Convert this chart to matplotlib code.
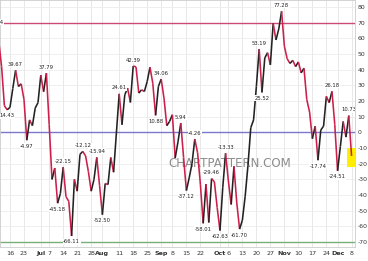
import numpy as np
import pandas as pd
import matplotlib
matplotlib.use("Agg")
import matplotlib.pyplot as plt
from matplotlib.collections import LineCollection
from matplotlib.patches import Rectangle

# trading days Jun 9 .. Dec 8 2014
holidays = ["2014-07-04", "2014-09-01", "2014-11-27"]
dates = pd.bdate_range("2014-06-09", "2014-12-08")
dates = dates[~dates.isin(pd.to_datetime(holidays))]

values = [
    66.54, 58, 42, 17, 14.43, 16, 28, 39.67, 29.3, 31,
    21, -4.97, 8, 4.3, 15.5, 19, 36.5, 26, 37.79, 5,
    -30, -22.7, -45.18, -39, -22.15, -41, -44, -66.11, -30, -37.5,
    -14, -12.12, -15, -25, -37.5, -30, -15.94, -34, -52.50, -32.6,
    -33.3, -16, -25.4, -0.4, 24.61, 4.9, 24, 28.3, 19.1, 42.39,
    41.8, 25.1, 27.2, 26.1, 32.5, 41.6, 31.4, 10.88, 29.3, 34.06,
    21.9, 4.3, 7.0, 11.3, -16.3, -6, 5.94, -16, -37.12, -29,
    -20, -4.26, -13, -33, -58.01, -33, -57.5, -29.46, -31.5, -48,
    -62.63, -35, -13.33, -31, -46, -21.6, -45, -61.70, -56, -40.7,
    -21, 3, 8, 29.3, 53.19, 25.52, 47.5, 50.9, 43.1, 69.6,
    59, 66, 77.28, 55, 47, 44, 46, 42, 45, 38,
    41, 21, 13, -4, 4, -17.74, 1.5, 4, 23, 19,
    26.18, 5, -24.51, -9, 7, -3, 10.73, -15,
]

# points that carry a value label
labeled = [0, 4, 7, 11, 18, 22, 24, 27, 31, 36, 38, 44, 49, 57, 59, 66, 68,
           71, 74, 77, 80, 82, 87, 94, 95, 102, 115, 120, 122, 126]

levels = [70, 0, -70]
level_colors = ["#cc4a78", "#7a78cc", "#7aae7a"]
yticks = list(range(-70, 90, 10))

vals = np.array(values)
x = np.arange(len(vals))
x0, x1 = 1.43, 128.4

fig = plt.figure(figsize=(3.68, 2.61), dpi=100)
ax = fig.add_axes([0.0, 0.052, 0.966, 0.948])

# x tick labels: month name on first trading day, Mondays otherwise
tick_pos, tick_lab, tick_bold = [], [], []
month_first = [i for i in range(1, len(dates)) if dates[i].month != dates[i - 1].month]
for i, d in enumerate(dates):
    if i < x0 or i > x1:
        continue
    if i in month_first:
        tick_pos.append(i); tick_lab.append(d.strftime("%b")); tick_bold.append(True)
    elif d.weekday() == 0 and all(abs(i - m) > 2 for m in month_first):
        tick_pos.append(i); tick_lab.append(str(d.day)); tick_bold.append(False)

for p in tick_pos:
    ax.axvline(p, color="#e4e4e4", lw=0.6, zorder=0)
for t in yticks:
    ax.axhline(t, color="#ececec", lw=0.6, zorder=0)

for lv, c in zip(levels, level_colors):
    ax.axhline(lv, color=c, lw=1.0, zorder=1)

ax.text(0.645, 0.34, "CHARTPATTERN.COM", transform=ax.transAxes, ha="center",
        va="center", fontsize=8.5, color="#8c8c8c", zorder=2)

segs = np.stack([np.column_stack([x[:-1], vals[:-1]]),
                 np.column_stack([x[1:], vals[1:]])], axis=1)
cols = ["#cc1f4a" if b < a else "#222222" for a, b in zip(vals[:-1], vals[1:])]
ax.add_collection(LineCollection(segs, colors=cols, linewidths=1.15, zorder=3))

for k in labeled:
    left = vals[k - 1] if k > 0 else -np.inf
    right = vals[k + 1] if k + 1 < len(vals) else -np.inf
    peak = vals[k] > max(left, right) if k > 0 else vals[k] > right
    ax.annotate(f"{vals[k]:.2f}", (x[k], vals[k]), xytext=(0, 2.5 if peak else -2.5),
                textcoords="offset points", ha="center",
                va="bottom" if peak else "top", fontsize=3.8, color="#222222",
                bbox=dict(fc="white", ec="none", pad=0.3), zorder=4,
                annotation_clip=False, clip_on=True)

# highlight of the last value
ax.add_patch(Rectangle((x[-1] - 1.5, vals[-1] - 7), 3.1, 12, fc="#ffee00",
                       ec="none", zorder=2.5))

ax.set_xlim(x0, x1)
ax.set_ylim(-73.4, 84.5)
ax.set_xticks(tick_pos)
ax.set_xticklabels(tick_lab, fontsize=4.6, color="#333333")
for lab, b in zip(ax.get_xticklabels(), tick_bold):
    if b:
        lab.set_fontweight("bold")
ax.yaxis.tick_right()
ax.set_yticks(yticks)
ax.set_yticklabels([str(t) for t in yticks], fontsize=4.4, color="#333333")
ax.tick_params(axis="x", length=0, pad=2.5)
ax.tick_params(axis="y", length=0, pad=1.5)
for s in ax.spines.values():
    s.set_color("#cccccc")
    s.set_linewidth(0.6)

fig.savefig("out.png", dpi=100)
